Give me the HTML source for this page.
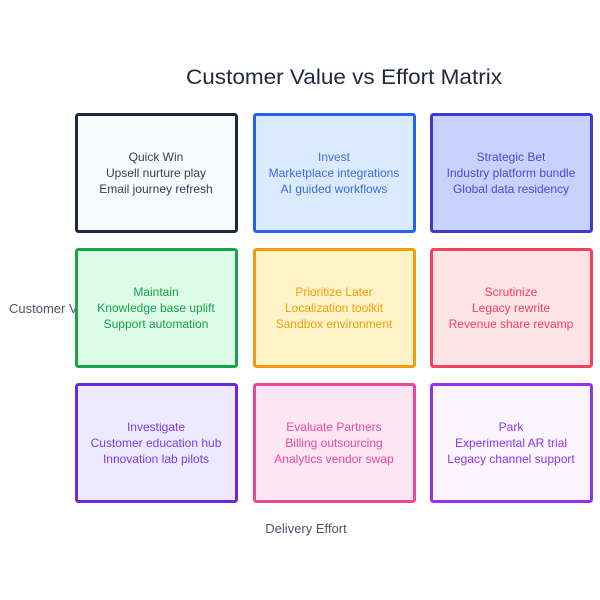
<!DOCTYPE html>
<html><head><meta charset="utf-8"><style>
html,body{margin:0;padding:0;background:#fff;}
svg{display:block;font-family:"Liberation Sans",sans-serif;}
</style></head><body>
<svg width="600" height="600" viewBox="0 0 600 600" xmlns="http://www.w3.org/2000/svg">
<rect width="600" height="600" fill="#fff"/>
<text x="344" y="84" font-size="21" fill="#1e293b" text-anchor="middle" textLength="316" lengthAdjust="spacingAndGlyphs">Customer Value vs Effort Matrix</text>
<text x="9" y="313" font-size="13" fill="#475569">Customer Value</text>
<g font-size="12" text-anchor="middle">
<rect x="76.5" y="114.5" width="160" height="117" rx="2" fill="#f8fafc" stroke="#1e293b" stroke-width="3"/>
<text fill="#334155"><tspan x="156" y="161">Quick Win</tspan><tspan x="156" y="177">Upsell nurture play</tspan><tspan x="156" y="193">Email journey refresh</tspan></text>
<rect x="254.5" y="114.5" width="160" height="117" rx="2" fill="#dbeafe" stroke="#2563eb" stroke-width="3"/>
<text fill="#3b6fe0"><tspan x="334" y="161">Invest</tspan><tspan x="334" y="177">Marketplace integrations</tspan><tspan x="334" y="193">AI guided workflows</tspan></text>
<rect x="431.5" y="114.5" width="160" height="117" rx="2" fill="#c7d2fe" stroke="#4338ca" stroke-width="3"/>
<text fill="#4f46e5"><tspan x="511" y="161">Strategic Bet</tspan><tspan x="511" y="177">Industry platform bundle</tspan><tspan x="511" y="193">Global data residency</tspan></text>

<rect x="76.5" y="249.5" width="160" height="117" rx="2" fill="#dcfce7" stroke="#16a34a" stroke-width="3"/>
<text fill="#16a34a"><tspan x="156" y="296">Maintain</tspan><tspan x="156" y="312">Knowledge base uplift</tspan><tspan x="156" y="328">Support automation</tspan></text>
<rect x="254.5" y="249.5" width="160" height="117" rx="2" fill="#fef3c7" stroke="#f59e0b" stroke-width="3"/>
<text fill="#f59e0b"><tspan x="334" y="296">Prioritize Later</tspan><tspan x="334" y="312">Localization toolkit</tspan><tspan x="334" y="328">Sandbox environment</tspan></text>
<rect x="431.5" y="249.5" width="160" height="117" rx="2" fill="#ffe4e6" stroke="#f43f5e" stroke-width="3"/>
<text fill="#f43f5e"><tspan x="511" y="296">Scrutinize</tspan><tspan x="511" y="312">Legacy rewrite</tspan><tspan x="511" y="328">Revenue share revamp</tspan></text>

<rect x="76.5" y="384.5" width="160" height="117" rx="2" fill="#ede9fe" stroke="#6d28d9" stroke-width="3"/>
<text fill="#7c3aed"><tspan x="156" y="431">Investigate</tspan><tspan x="156" y="447">Customer education hub</tspan><tspan x="156" y="463">Innovation lab pilots</tspan></text>
<rect x="254.5" y="384.5" width="160" height="117" rx="2" fill="#fce7f3" stroke="#ec4899" stroke-width="3"/>
<text fill="#ec4899"><tspan x="334" y="431">Evaluate Partners</tspan><tspan x="334" y="447">Billing outsourcing</tspan><tspan x="334" y="463">Analytics vendor swap</tspan></text>
<rect x="431.5" y="384.5" width="160" height="117" rx="2" fill="#faf5ff" stroke="#9333ea" stroke-width="3"/>
<text fill="#9333ea"><tspan x="511" y="431">Park</tspan><tspan x="511" y="447">Experimental AR trial</tspan><tspan x="511" y="463">Legacy channel support</tspan></text>
</g>
<text x="306" y="533" font-size="13" fill="#475569" text-anchor="middle">Delivery Effort</text>
</svg>
</body></html>
